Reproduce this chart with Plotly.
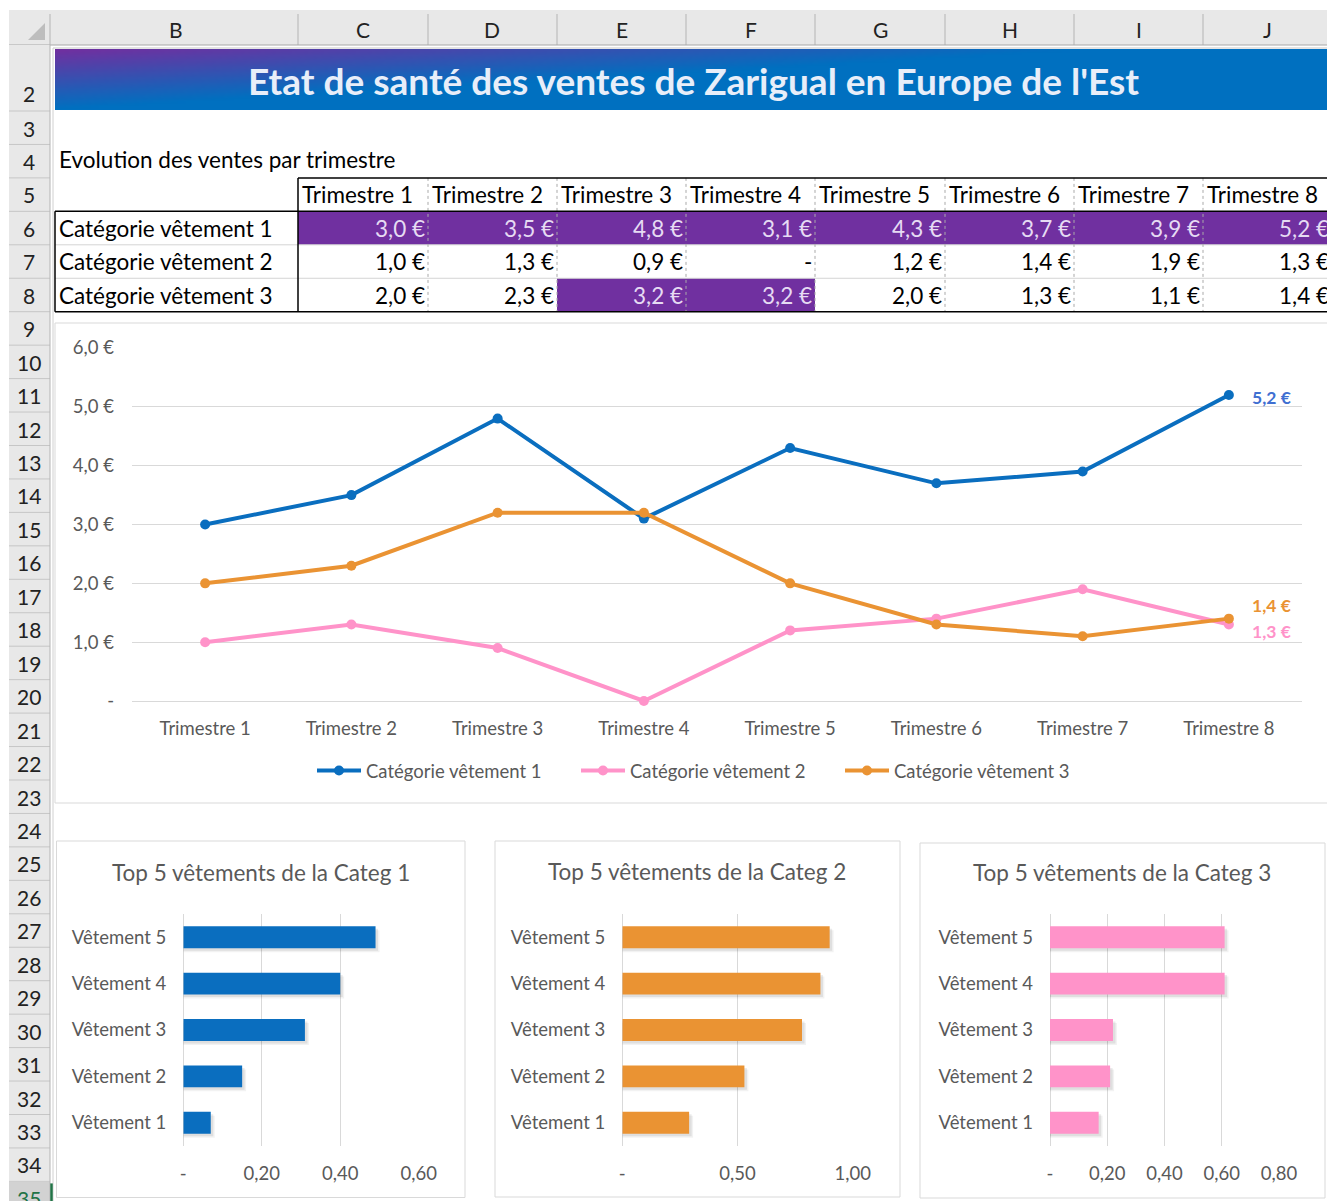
import base64
import struct
import zlib

import plotly.graph_objects as go

# ---------------------------------------------------------------- data
trimestres = ["Trimestre 1", "Trimestre 2", "Trimestre 3", "Trimestre 4",
              "Trimestre 5", "Trimestre 6", "Trimestre 7", "Trimestre 8"]
categories = ["Catégorie vêtement 1", "Catégorie vêtement 2", "Catégorie vêtement 3"]
cat1 = [3.0, 3.5, 4.8, 3.1, 4.3, 3.7, 3.9, 5.2]
cat2 = [1.0, 1.3, 0.9, 0.0, 1.2, 1.4, 1.9, 1.3]
cat3 = [2.0, 2.3, 3.2, 3.2, 2.0, 1.3, 1.1, 1.4]

vetements = ["Vêtement 1", "Vêtement 2", "Vêtement 3", "Vêtement 4", "Vêtement 5"]
top_categ1 = [0.07, 0.15, 0.31, 0.40, 0.49]
top_categ2 = [0.29, 0.53, 0.78, 0.86, 0.90]
top_categ3 = [0.17, 0.21, 0.22, 0.61, 0.61]

line_ticks = [0, 1, 2, 3, 4, 5, 6]
bar_ticks1 = [0, 0.2, 0.4, 0.6]
bar_ticks2 = [0, 0.5, 1.0]
bar_ticks3 = [0, 0.2, 0.4, 0.6, 0.8]

col_letters = ["B", "C", "D", "E", "F", "G", "H", "I", "J"]

# ---------------------------------------------------------------- styling
W, H = 1327, 1201
FONT = "Lato"
GREY_TXT = "#595959"
GRID = "#d9d9d9"
BLUE = "#0A6EBF"
PINK = "#FF93C9"
ORANGE = "#EA9333"
PURPLE = "#7030A0"
HEADER_BG = "#e8e8e8"
HEADER_LINE = "#c6c6c6"
CELL_SIZE = 22.5
CHART_SIZE = 18.5


def X(px):
    return px / W


def Y(py):
    return 1 - py / H


def euro(v):
    return "-" if v == 0 else f"{v:.1f}".replace(".", ",") + " €"


def dec2(v):
    return "-" if v == 0 else f"{v:.2f}".replace(".", ",")


shapes = []
annotations = []


def rect(x0, y0, x1, y1, fill=None, line=None, lw=1):
    shapes.append(dict(type="rect", xref="paper", yref="paper", layer="below",
                       x0=X(x0), x1=X(x1), y0=Y(y1), y1=Y(y0),
                       fillcolor=fill or "rgba(0,0,0,0)",
                       line=dict(color=line or "rgba(0,0,0,0)", width=lw if line else 0)))


def seg(x0, y0, x1, y1, color, lw=1, dash="solid"):
    shapes.append(dict(type="line", xref="paper", yref="paper", layer="below",
                       x0=X(x0), x1=X(x1), y0=Y(y0), y1=Y(y1),
                       line=dict(color=color, width=lw, dash=dash)))


def text(x, y, s, size, color="#000000", xanchor="center", bold=False):
    annotations.append(dict(xref="paper", yref="paper", x=X(x), y=Y(y), text=s,
                            showarrow=False, xanchor=xanchor, yanchor="middle",
                            font=dict(family=FONT, size=size, color=color,
                                      weight="bold" if bold else "normal")))


# ---------------------------------------------------------------- sheet grid
col_edges = [53, 298, 428, 557, 686, 815, 945, 1074, 1203, 1332]
ROW3_TOP, ROW_H = 111.0, 33.45


def row_top(n):
    return 48.0 if n == 2 else ROW3_TOP + (n - 3) * ROW_H


# column header band
rect(9, 10, W + 5, 45, fill=HEADER_BG)
for i, letter in enumerate(col_letters):
    text((col_edges[i] + col_edges[i + 1]) / 2, 30, letter, 21, "#222222")
for e in col_edges[1:-1]:
    seg(e, 14, e, 45, "#b4b4b4")
seg(9, 45, W + 5, 45, "#a8a8a8")
seg(53, 48, W + 5, 48, "#c8c8c8")
# select-all corner
shapes.append(dict(type="path", xref="paper", yref="paper", layer="below",
                   path=f"M {X(45)} {Y(23)} L {X(45)} {Y(40)} L {X(28)} {Y(40)} Z",
                   fillcolor="#bdbdbd", line=dict(width=0)))
seg(50, 14, 50, 45, "#b4b4b4")

# row header column
rect(9, 45, 50, H + 5, fill=HEADER_BG)
for n in range(2, 36):
    top = row_top(n)
    bottom = row_top(n + 1)
    if n == 35:
        rect(9, top, 50, H + 5, fill="#d2d2d2")
    seg(9, bottom, 50, bottom, HEADER_LINE)
    ty = 93 if n == 2 else top + 17
    text(29, ty, str(n), 21, "#217346" if n == 35 else "#222222")
seg(50, 45, 50, H + 5, "#b4b4b4")
seg(53, 48, 53, H + 5, "#d0d0d0")
seg(51.5, row_top(35) + 2, 51.5, H + 5, "#217346", lw=2.5)


# ---------------------------------------------------------------- title banner
def gradient_png(w, h):
    c0 = (0x70, 0x30, 0xA0)
    c1 = (0x00, 0x70, 0xC0)
    raw = bytearray()
    for j in range(h):
        raw.append(0)
        yf = j / (h - 1)
        for i in range(w):
            xf = i / (w - 1)
            t = min(1.0, yf * 1.0 + xf * 1.25)
            raw.extend(int(round(a + (b - a) * t)) for a, b in zip(c0, c1))

    def chunk(tag, data):
        return (struct.pack(">I", len(data)) + tag + data +
                struct.pack(">I", zlib.crc32(tag + data) & 0xFFFFFFFF))

    png = (b"\x89PNG\r\n\x1a\n" +
           chunk(b"IHDR", struct.pack(">IIBBBBB", w, h, 8, 2, 0, 0, 0)) +
           chunk(b"IDAT", zlib.compress(bytes(raw))) +
           chunk(b"IEND", b""))
    return "data:image/png;base64," + base64.b64encode(png).decode()


images = [dict(source=gradient_png(160, 24), xref="paper", yref="paper",
               x=X(55), y=Y(49), sizex=X(W + 2) - X(55), sizey=(110 - 49) / H,
               xanchor="left", yanchor="top", sizing="stretch", layer="below")]
text(693, 81, "Etat de santé des ventes de Zarigual en Europe de l'Est", 37,
     "#e8eef9", bold=True)

# ---------------------------------------------------------------- table
text(57, 160, "Evolution des ventes par trimestre", CELL_SIZE, xanchor="left")
r5, r6, r7, r8, r9 = (row_top(n) for n in (5, 6, 7, 8, 9))
series = [cat1, cat2, cat3]
row_tops = [r6, r7, r8]

# highlighted cells (values of at least 3 €)
for k, vals in enumerate(series):
    for i, v in enumerate(vals):
        if v >= 3.0:
            rect(col_edges[i + 1], row_tops[k], col_edges[i + 2], row_tops[k] + ROW_H,
                 fill=PURPLE)

# inner light separators
for yb in (r7, r8):
    seg(55, yb, W + 5, yb, "#d4d4d4")
for e in col_edges[2:-1]:
    seg(e, r5, e, r9, "#a9a9a9", lw=1, dash="dot")

# black borders
seg(298, r5, W + 5, r5, "#000000", 1.5)
seg(298, r5, 298, r9, "#000000", 1.5)
seg(55, r6, W + 5, r6, "#000000", 1.5)
seg(55, r6, 55, r9, "#000000", 1.5)
seg(55, r9, W + 5, r9, "#000000", 1.5)

for i, t in enumerate(trimestres):
    text(col_edges[i + 1] + 2, r5 + 17, t, CELL_SIZE, xanchor="left")
for k, (name, vals) in enumerate(zip(categories, series)):
    cy = row_tops[k] + 17
    text(57, cy, name, CELL_SIZE, xanchor="left")
    for i, v in enumerate(vals):
        color = "#e6dbf3" if v >= 3.0 else "#000000"
        text(col_edges[i + 2] - 1, cy, euro(v), CELL_SIZE, color, xanchor="right")

# ---------------------------------------------------------------- chart frames
rect(55, 323, W + 10, 803, fill="#ffffff", line=GRID, lw=1)
rect(56.5, 841, 465, 1197.5, fill="#ffffff", line=GRID, lw=1)
rect(495, 841, 900, 1197, fill="#ffffff", line=GRID, lw=1)
rect(920, 843, 1325, 1198, fill="#ffffff", line=GRID, lw=1)

text(261, 872, "Top 5 vêtements de la Categ 1", 22.5, GREY_TXT)
text(697, 871, "Top 5 vêtements de la Categ 2", 22.5, GREY_TXT)
text(1122, 873, "Top 5 vêtements de la Categ 3", 22.5, GREY_TXT)

# ---------------------------------------------------------------- traces
fig = go.Figure()

line_series = [(categories[0], cat1, BLUE), (categories[1], cat2, PINK),
               (categories[2], cat3, ORANGE)]
for name, vals, color in line_series:
    fig.add_trace(go.Scatter(
        x=trimestres, y=vals, name=name, mode="lines+markers",
        line=dict(color=color, width=4), marker=dict(size=10, color=color),
        cliponaxis=False, xaxis="x", yaxis="y"))

BAR_W = 0.473
bar_sets = [(top_categ1, BLUE, "x2", "y2", 0.6 / 235.4),
            (top_categ2, ORANGE, "x3", "y3", 1.0 / 230.4),
            (top_categ3, PINK, "x4", "y4", 0.8 / 229.0)]
for vals, color, xa, ya, unit in bar_sets:
    # soft drop shadow under each bar
    for dpx, alpha in ((4, 0.05), (2.5, 0.08)):
        fig.add_trace(go.Bar(
            x=[v + dpx * unit for v in vals], y=vetements, orientation="h",
            width=BAR_W, offset=-BAR_W / 2 - dpx / 46.5,
            marker=dict(color=f"rgba(0,0,0,{alpha})", line_width=0),
            showlegend=False, hoverinfo="skip", xaxis=xa, yaxis=ya))
    fig.add_trace(go.Bar(
        x=vals, y=vetements, orientation="h", width=BAR_W, offset=-BAR_W / 2,
        marker=dict(color=color, line_width=0),
        showlegend=False, xaxis=xa, yaxis=ya, hoverinfo="x+y"))

# value labels on the last quarter
label_colors = ["#3F6FD1", PINK, ORANGE]
label_shifts = [-2, -7, 13]
for (name, vals, _), lc, ys in zip(line_series, label_colors, label_shifts):
    annotations.append(dict(xref="x", yref="y", x=trimestres[-1], y=vals[-1],
                            text=euro(vals[-1]), showarrow=False, xanchor="left",
                            yanchor="middle", xshift=21, yshift=ys,
                            font=dict(family=FONT, size=17.5, color=lc, weight="bold")))

# ---------------------------------------------------------------- axes
tick_font = dict(family=FONT, size=CHART_SIZE, color=GREY_TXT)
fig.update_layout(
    xaxis=dict(domain=[X(132), X(1302)], range=[-0.5, 7.5], type="category",
               showgrid=False, showline=False, zeroline=False, ticks="",
               tickfont=tick_font, ticklabelstandoff=14, anchor="y",
               automargin=False),
    yaxis=dict(domain=[Y(701), Y(348)], range=[0, 6.0001], tickvals=line_ticks,
               ticktext=[euro(v) for v in line_ticks], showgrid=True,
               gridcolor=GRID, gridwidth=1, zeroline=True, zerolinecolor=GRID,
               zerolinewidth=1, showline=False, ticks="", tickfont=tick_font,
               ticklabelstandoff=17, anchor="x", automargin=False),
)

bar_axes = [
    ("xaxis2", "yaxis2", "x2", "y2", 183.3, 418.7, [0, 0.6], bar_ticks1),
    ("xaxis3", "yaxis3", "x3", "y3", 622.3, 852.7, [0, 1.0], bar_ticks2),
    ("xaxis4", "yaxis4", "x4", "y4", 1050, 1279, [0, 0.8], bar_ticks3),
]
for xk, yk, xid, yid, x0, x1, rng, tv in bar_axes:
    fig.update_layout({
        xk: dict(domain=[X(x0), X(x1)], range=rng, tickvals=tv,
                 ticktext=[dec2(v) for v in tv], showgrid=True, gridcolor=GRID,
                 gridwidth=1, zeroline=True, zerolinecolor=GRID, zerolinewidth=1,
                 showline=False, ticks="", tickfont=tick_font,
                 ticklabelstandoff=14, anchor=yid, automargin=False),
        yk: dict(domain=[Y(1146), Y(914)], type="category", showgrid=False,
                 zeroline=False, showline=False, ticks="", tickfont=tick_font,
                 ticklabelstandoff=16, anchor=xid, automargin=False),
    })

fig.update_layout(
    width=W, height=H,
    margin=dict(l=0, r=0, t=0, b=0, pad=0, autoexpand=False),
    paper_bgcolor="#ffffff", plot_bgcolor="rgba(0,0,0,0)",
    barmode="overlay", shapes=shapes, annotations=annotations, images=images,
    showlegend=True,
    legend=dict(orientation="h", x=X(312), y=Y(771), xanchor="left",
                yanchor="middle", font=dict(family=FONT, size=CHART_SIZE, color=GREY_TXT),
                entrywidth=205, entrywidthmode="pixels", itemwidth=44,
                bgcolor="rgba(0,0,0,0)", itemclick=False, itemdoubleclick=False),
    font=dict(family=FONT),
)

fig.write_html("out.html")
